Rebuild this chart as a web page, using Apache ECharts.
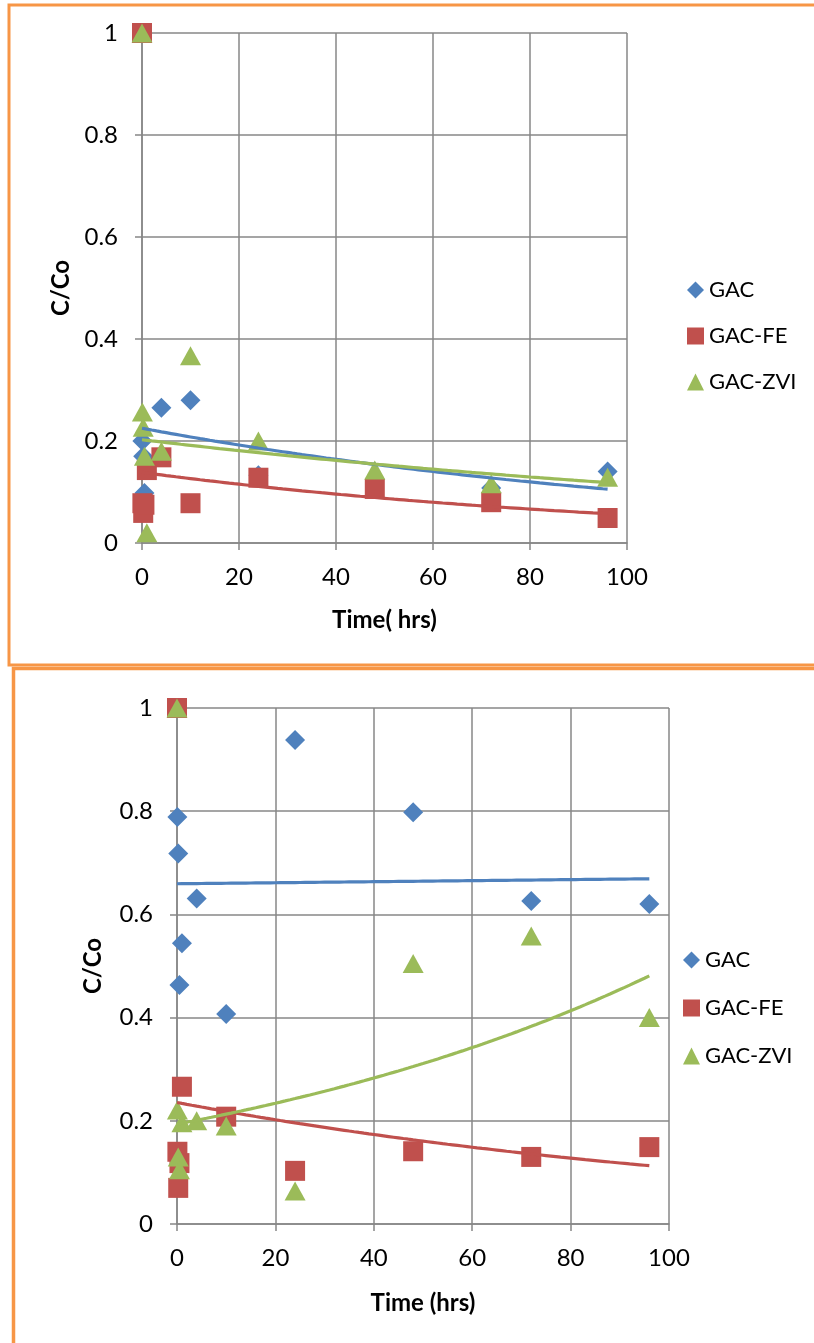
<!DOCTYPE html>
<html><head><meta charset="utf-8">
<script src="https://cdn.jsdelivr.net/npm/echarts@6/dist/echarts.min.js"></script>
<style>html,body{margin:0;padding:0;background:#fff}#c{width:814px;height:1343px}</style>
</head><body><div id="c"></div>
<script>
// ---- data ----
const seriesNames = ['GAC', 'GAC-FE', 'GAC-ZVI'];
const xTickValues = [0, 20, 40, 60, 80, 100];
const yTickValues = [0, 0.2, 0.4, 0.6, 0.8, 1];

// top chart
const topGacTime = [0, 0.08, 0.25, 0.5, 1, 4, 10, 24, 48, 72, 96];
const topGacVal  = [1, 0.2, 0.17, 0.098, 0.16, 0.265, 0.28, 0.133, 0.125, 0.108, 0.14];
const topFeTime  = [0, 0.08, 0.25, 0.5, 1, 4, 10, 24, 48, 72, 96];
const topFeVal   = [1, 0.078, 0.059, 0.075, 0.143, 0.168, 0.078, 0.128, 0.106, 0.08, 0.049];
const topZviTime = [0, 0.08, 0.25, 0.5, 1, 4, 10, 24, 48, 72, 96];
const topZviVal  = [1, 0.257, 0.227, 0.17, 0.02, 0.18, 0.367, 0.2, 0.143, 0.116, 0.129];

// bottom chart
const botGacTime = [0, 0.08, 0.25, 0.5, 1, 4, 10, 24, 48, 72, 96];
const botGacVal  = [1, 0.789, 0.718, 0.463, 0.544, 0.631, 0.407, 0.938, 0.798, 0.626, 0.62];
const botFeTime  = [0, 0, 0.08, 0.25, 0.5, 1, 10, 24, 48, 72, 96];
const botFeVal   = [1, 1, 0.14, 0.07, 0.118, 0.266, 0.208, 0.103, 0.141, 0.13, 0.149];
const botZviTime = [0, 0.08, 0.25, 0.5, 1, 4, 10, 24, 48, 72, 96];
const botZviVal  = [1, 0.221, 0.13, 0.105, 0.196, 0.2, 0.19, 0.064, 0.505, 0.558, 0.4];

const axisTitlesTop = {x: 'Time( hrs)', y: 'C/Co'};
const axisTitlesBot = {x: 'Time (hrs)', y: 'C/Co'};

// ---- styling ----
const COLORS = ['#4F81BD', '#C0504D', '#9BBB59'];
const SYMBOLS = ['diamond', 'rect', 'triangle'];
const SYMSIZE = [[20, 20], [20, 20], [21, 19]];
const GRIDC = '#878787';
const FONT = 'Lato, "Noto Sans", sans-serif';

function pairs(t, v) { return t.map((x, i) => [x, v[i]]); }

// Excel-style exponential trendline (least squares on ln y), computed from the data
function expTrend(t, v) {
  const n = t.length;
  let sx = 0, sy = 0;
  for (let i = 0; i < n; i++) { sx += t[i]; sy += Math.log(v[i]); }
  const mx = sx / n, my = sy / n;
  let sxy = 0, sxx = 0;
  for (let i = 0; i < n; i++) { sxy += (t[i] - mx) * (Math.log(v[i]) - my); sxx += (t[i] - mx) * (t[i] - mx); }
  const b = sxy / sxx, lnA = my - b * mx;
  const lo = Math.min(...t), hi = Math.max(...t);
  const out = [];
  for (let k = 0; k <= 96; k++) {
    const x = lo + (hi - lo) * k / 96;
    out.push([x, Math.exp(lnA + b * x)]);
  }
  return out;
}

function axes(gi, titles, yGap, xGap) {
  const common = {
    gridIndex: gi, type: 'value', min: 0,
    axisLine: {show: true, lineStyle: {color: GRIDC, width: 1.5}},
    axisTick: {show: true, length: 7, lineStyle: {color: GRIDC, width: 1.5}},
    splitLine: {show: true, lineStyle: {color: GRIDC, width: 1.5}},
    axisLabel: {color: '#000', fontSize: 24, fontFamily: FONT},
    nameLocation: 'middle',
    nameTextStyle: {color: '#000', fontSize: 24, fontWeight: 'bold', fontFamily: FONT}
  };
  return {
    x: Object.assign({}, common, {max: 100, interval: 20, name: titles.x, nameGap: xGap,
        axisLabel: Object.assign({}, common.axisLabel, {margin: 22})}),
    y: Object.assign({}, common, {max: 1, interval: 0.2, name: titles.y, nameGap: yGap,
        axisLabel: Object.assign({}, common.axisLabel, {margin: 24})})
  };
}

const aTop = axes(0, axisTitlesTop, 66, 65);
const aBot = axes(1, axisTitlesBot, 72, 67);

function scatter(name, idx, gi, t, v) {
  return {
    type: 'scatter', name: name, xAxisIndex: gi, yAxisIndex: gi,
    symbol: SYMBOLS[idx], symbolSize: SYMSIZE[idx],
    itemStyle: {color: COLORS[idx], opacity: 1},
    data: pairs(t, v), z: 2, emphasis: {disabled: true}
  };
}
function trend(idx, gi, t, v) {
  return {
    type: 'line', xAxisIndex: gi, yAxisIndex: gi, showSymbol: false, symbol: 'none',
    lineStyle: {color: COLORS[idx], width: 3.2}, data: expTrend(t, v), z: 3,
    silent: true, emphasis: {disabled: true}
  };
}

const legendCommon = {
  orient: 'vertical', itemWidth: 17, itemHeight: 17,
  textStyle: {color: '#000', fontSize: 22, fontFamily: FONT, lineHeight: 24},
  data: seriesNames, selectedMode: false
};

const option = {
  animation: false,
  backgroundColor: '#fff',
  grid: [
    {left: 142, top: 33, width: 485, height: 510},
    {left: 177, top: 708, width: 492, height: 516}
  ],
  xAxis: [aTop.x, aBot.x],
  yAxis: [aTop.y, aBot.y],
  legend: [
    Object.assign({}, legendCommon, {left: 682, top: 273, itemGap: 22}),
    Object.assign({}, legendCommon, {left: 678, top: 943, itemGap: 24})
  ],
  graphic: [
    {type: 'rect', shape: {x: 9, y: 5, width: 900, height: 660}, style: {fill: 'none', stroke: '#F79646', lineWidth: 3}, z: 100},
    {type: 'rect', shape: {x: 13.5, y: 668.5, width: 900, height: 700}, style: {fill: 'none', stroke: '#F79646', lineWidth: 3.5}, z: 100}
  ],
  series: [
    scatter(seriesNames[0], 0, 0, topGacTime, topGacVal),
    scatter(seriesNames[1], 1, 0, topFeTime, topFeVal),
    scatter(seriesNames[2], 2, 0, topZviTime, topZviVal),
    trend(0, 0, topGacTime, topGacVal),
    trend(1, 0, topFeTime, topFeVal),
    trend(2, 0, topZviTime, topZviVal),
    scatter(seriesNames[0], 0, 1, botGacTime, botGacVal),
    scatter(seriesNames[1], 1, 1, botFeTime, botFeVal),
    scatter(seriesNames[2], 2, 1, botZviTime, botZviVal),
    trend(0, 1, botGacTime, botGacVal),
    trend(1, 1, botFeTime, botFeVal),
    trend(2, 1, botZviTime, botZviVal)
  ]
};

const chart = echarts.init(document.getElementById('c'), null, {renderer: 'canvas'});
chart.setOption(option);
</script>
</body></html>
